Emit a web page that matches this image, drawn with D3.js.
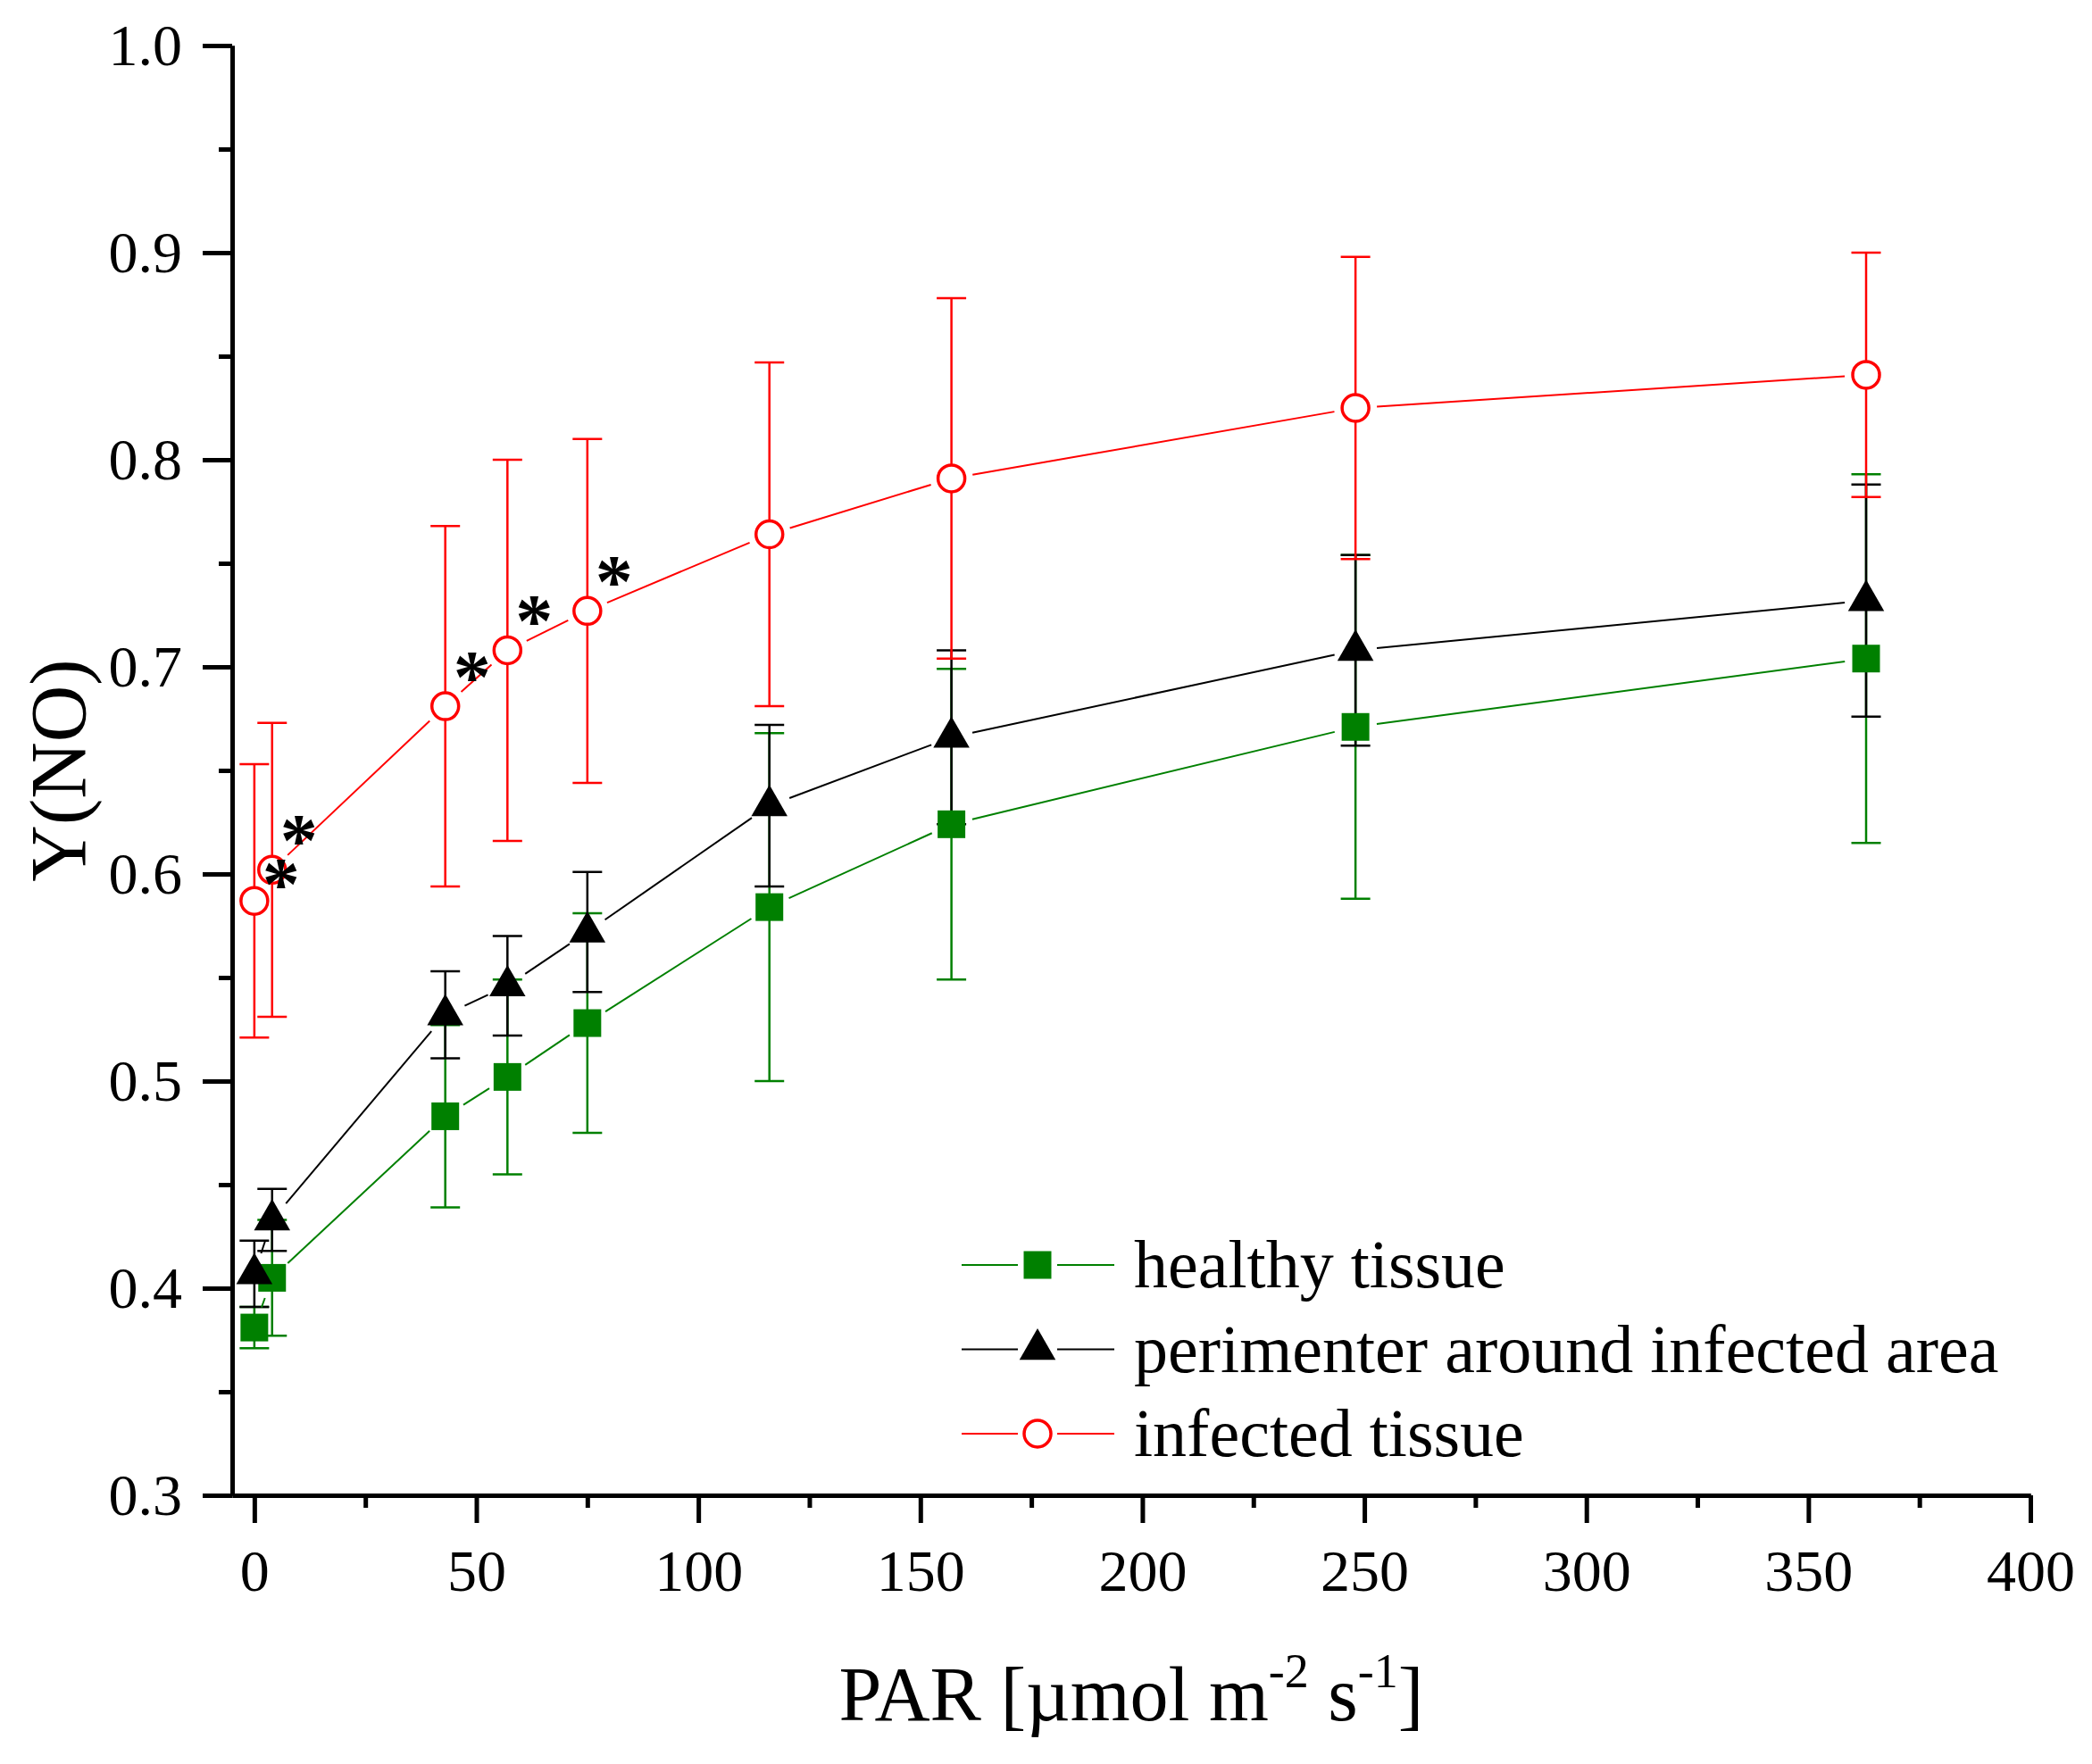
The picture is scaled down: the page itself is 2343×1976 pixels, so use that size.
<!DOCTYPE html>
<html>
<head>
<meta charset="utf-8">
<script src="https://cdn.jsdelivr.net/npm/d3@7"></script>
<style>
  body { margin: 0; background: #fff; }
  text { font-family: "Liberation Serif", "Times New Roman", serif; }
</style>
</head>
<body>
<div id="chart"></div>
<script>
// PAR levels (µmol m-2 s-1)
const par = [0, 4, 43, 57, 75, 116, 157, 248, 363];

// Y(NO) means and standard deviations
const healthy = [0.381, 0.405, 0.483, 0.502, 0.528, 0.584, 0.624, 0.671, 0.704];
const healthySD = [0.010, 0.028, 0.044, 0.047, 0.053, 0.084, 0.075, 0.083, 0.089];

const perimeter = [0.407, 0.433, 0.532, 0.546, 0.572, 0.633, 0.666, 0.708, 0.732];
const perimeterSD = [0.016, 0.015, 0.021, 0.024, 0.029, 0.039, 0.042, 0.046, 0.056];

const infected = [0.587, 0.602, 0.681, 0.708, 0.727, 0.764, 0.791, 0.825, 0.841];
const infectedSD = [0.066, 0.071, 0.087, 0.092, 0.083, 0.083, 0.087, 0.073, 0.059];

// PAR levels marked as significant (asterisks on infected tissue)
const significant = [0, 4, 43, 57, 75];

const seriesNames = ["healthy tissue", "perimenter around infected area", "infected tissue"];
const xTicks = [0, 50, 100, 150, 200, 250, 300, 350, 400];
const yTicks = [0.3, 0.4, 0.5, 0.6, 0.7, 0.8, 0.9, 1.0];

const width = 2343;
const height = 1976;
const margin = { top: 51, left: 260, bottom: 301, right: 69 };
const iwidth = width - margin.left - margin.right;
const iheight = height - margin.top - margin.bottom;

const svg = d3.select("#chart").append("svg")
    .attr("width", width)
    .attr("height", height);

svg.append("rect").attr("width", width).attr("height", height).attr("fill", "#fff");

const g = svg.append("g").attr("transform", `translate(${margin.left},${margin.top})`);

const x = d3.scaleLinear().domain([-5, 400]).range([0, iwidth]);
const y = d3.scaleLinear().domain([0.3, 1.0]).range([iheight, 0]);

// axes
const xAxis = g.append("g")
    .attr("transform", `translate(0,${iheight})`)
    .call(d3.axisBottom(x).tickValues(xTicks).tickSize(31).tickSizeOuter(0).tickPadding(29));
const xMinor = g.append("g")
    .attr("transform", `translate(0,${iheight})`)
    .call(d3.axisBottom(x).tickValues(d3.range(25, 400, 50)).tickSize(14).tickSizeOuter(0).tickFormat(""));
const yAxis = g.append("g")
    .call(d3.axisLeft(y).tickValues(yTicks).tickSize(33).tickSizeOuter(0).tickPadding(23).tickFormat(d3.format(".1f")));
const yMinor = g.append("g")
    .call(d3.axisLeft(y).tickValues(d3.range(0.35, 1.0, 0.1)).tickSize(15).tickSizeOuter(0).tickFormat(""));

[xAxis, xMinor, yAxis, yMinor].forEach(a => {
    a.select(".domain").attr("stroke", "#000").attr("stroke-width", 5);
    a.selectAll(".tick line").attr("stroke", "#000").attr("stroke-width", 5);
    a.selectAll(".tick text").attr("fill", "#000").style("font-size", "66px")
        .style("font-family", "'Liberation Serif', serif");
});

const series = [
    { name: seriesNames[0], values: healthy, sd: healthySD, color: "#008000", shape: "square" },
    { name: seriesNames[1], values: perimeter, sd: perimeterSD, color: "#000000", shape: "triangle" },
    { name: seriesNames[2], values: infected, sd: infectedSD, color: "#ff0000", shape: "circle" }
];

const capW = 16.5;

// error bars
series.forEach(s => {
    const eb = g.append("g").attr("stroke", s.color).attr("stroke-width", 2.5);
    par.forEach((p, i) => {
        const cx = x(p), lo = y(s.values[i] - s.sd[i]), hi = y(s.values[i] + s.sd[i]);
        eb.append("line").attr("x1", cx).attr("x2", cx).attr("y1", lo).attr("y2", hi);
        eb.append("line").attr("x1", cx - capW).attr("x2", cx + capW).attr("y1", lo).attr("y2", lo);
        eb.append("line").attr("x1", cx - capW).attr("x2", cx + capW).attr("y1", hi).attr("y2", hi);
    });
});

// connecting lines, with a gap around each symbol
const gap = 24;
series.forEach(s => {
    const pts = par.map((p, i) => [x(p), y(s.values[i])]);
    d3.pairs(pts).forEach(([a, b]) => {
        const dx = b[0] - a[0], dy = b[1] - a[1];
        const len = Math.hypot(dx, dy);
        if (len <= 2 * gap) return;
        const ux = dx / len, uy = dy / len;
        g.append("line")
            .attr("x1", a[0] + ux * gap).attr("y1", a[1] + uy * gap)
            .attr("x2", b[0] - ux * gap).attr("y2", b[1] - uy * gap)
            .attr("stroke", s.color).attr("stroke-width", 2);
    });
});

function drawSymbol(sel, shape, color) {
    if (shape === "circle") {
        sel.append("circle").attr("r", 15).attr("fill", "#fff")
            .attr("stroke", color).attr("stroke-width", 3.5);
    } else if (shape === "square") {
        sel.append("path").attr("d", d3.symbol(d3.symbolSquare, 961)()).attr("fill", color);
    } else {
        sel.append("path").attr("d", d3.symbol(d3.symbolTriangle, 711)()).attr("fill", color);
    }
}

// symbols
series.forEach(s => {
    par.forEach((p, i) => {
        const m = g.append("g").attr("transform", `translate(${x(p)},${y(s.values[i])})`);
        drawSymbol(m, s.shape, s.color);
    });
});

// significance asterisks; when the next marked point is very close, drop this one lower
significant.forEach((p, k) => {
    const i = par.indexOf(p);
    const next = significant[k + 1];
    const crowded = next !== undefined && x(next) - x(p) < 40;
    g.append("text")
        .attr("x", x(p) + 30)
        .attr("y", y(infected[i]) + (crowded ? 10 : -4))
        .attr("text-anchor", "middle")
        .style("font-size", "84px")
        .style("font-weight", "bold")
        .text("*");
});

// legend
const legend = g.append("g").attr("transform", `translate(${1162 - margin.left},${1417 - margin.top})`);
series.forEach((s, i) => {
    const row = legend.append("g").attr("transform", `translate(0,${i * 94.5})`);
    row.append("line").attr("x1", -85).attr("x2", -22).attr("stroke", s.color).attr("stroke-width", 2);
    row.append("line").attr("x1", 22).attr("x2", 86).attr("stroke", s.color).attr("stroke-width", 2);
    drawSymbol(row, s.shape, s.color);
    row.append("text")
        .attr("x", 108)
        .attr("y", 25)
        .style("font-size", "76px")
        .text(s.name);
});

// axis titles
const xt = svg.append("text")
    .attr("x", margin.left + iwidth / 2)
    .attr("y", 1927)
    .attr("text-anchor", "middle")
    .style("font-size", "86px");
xt.append("tspan").text("PAR [µmol m");
xt.append("tspan").attr("dy", -37).style("font-size", "54px").text("-2");
xt.append("tspan").attr("dy", 37).text(" s");
xt.append("tspan").attr("dy", -37).style("font-size", "54px").text("-1");
xt.append("tspan").attr("dy", 37).text("]");

svg.append("text")
    .attr("transform", `translate(95,${margin.top + iheight / 2}) rotate(-90)`)
    .attr("text-anchor", "middle")
    .style("font-size", "88px")
    .text("Y(NO)");
</script>
</body>
</html>
